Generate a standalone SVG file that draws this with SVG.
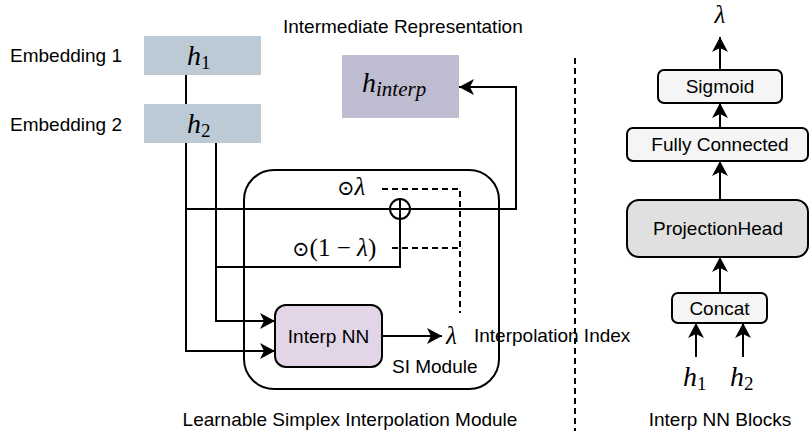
<svg xmlns="http://www.w3.org/2000/svg" width="810" height="431" viewBox="0 0 810 431">
<style>
.lbl{font-family:"Liberation Sans",Arial,sans-serif;font-size:19px;fill:#000}
.m{font-family:"Liberation Serif","DejaVu Serif",serif;font-style:italic;fill:#000}
.sym{font-family:"DejaVu Serif",serif;font-style:normal}
.ln{fill:none;stroke:#000;stroke-width:2}
.dash{fill:none;stroke:#000;stroke-width:2;stroke-dasharray:6 4}
.box{stroke:#000;stroke-width:2}
</style>
<defs>
<marker id="ar" markerUnits="userSpaceOnUse" markerWidth="18" markerHeight="18" refX="15" refY="8" orient="auto">
<path d="M0,0 L15,8 L0,16 L4,8 Z" fill="#000"/>
</marker>
</defs>
<rect width="810" height="431" fill="#fff"/>

<g id="labels">
<text class="lbl" x="10" y="62">Embedding 1</text>
<text class="lbl" x="10" y="131">Embedding 2</text>
<text class="lbl" x="283" y="33">Intermediate Representation</text>
<text class="lbl" x="350" y="426" text-anchor="middle">Learnable Simplex Interpolation Module</text>
<text class="lbl" x="720" y="426" text-anchor="middle">Interp NN Blocks</text>
</g>

<g id="h1">
<rect x="144" y="36" width="117" height="39" fill="#bccad6"/>
<text class="m" x="187" y="65" font-size="28">h<tspan font-style="normal" font-size="19" dy="4">1</tspan></text>
</g>
<g id="h2">
<rect x="144" y="104" width="117" height="39" fill="#bccad6"/>
<text class="m" x="187" y="133" font-size="28">h<tspan font-style="normal" font-size="19" dy="4">2</tspan></text>
</g>
<g id="hinterp">
<rect x="342" y="55" width="117" height="63" fill="#bdbcd0"/>
<text class="m" x="362" y="92" font-size="28">h<tspan font-size="21" dy="4">interp</tspan></text>
</g>

<g id="si-module">
<rect x="244" y="170" width="255" height="219" rx="30" fill="none" class="box"/>
<text class="lbl" x="392" y="373">SI Module</text>
</g>

<g id="interp-nn">
<rect x="275" y="305" width="107" height="62" rx="11" fill="#e1d5e7" class="box"/>
<text class="lbl" x="328.5" y="343" text-anchor="middle">Interp NN</text>
</g>

<g id="connectors">
<path class="ln" d="M186,75 V104"/>
<path class="ln" d="M186,143 V351 H275" marker-end="url(#ar)"/>
<path class="ln" d="M216,143 V321 H275" marker-end="url(#ar)"/>
<path class="ln" d="M186,209 H516 V87 H459" marker-end="url(#ar)"/>
<path class="ln" d="M216,267 H400 V209"/>
<circle cx="400" cy="209" r="10" class="ln"/>
<path class="ln" d="M400,199 V219"/>
<path class="ln" d="M382,336 H442" marker-end="url(#ar)"/>
<path class="dash" d="M382,189 H460 V313"/>
<path class="dash" d="M392,248 H460"/>
<path class="dash" d="M575,58 V431"/>
<path class="ln" d="M720,70 V37" marker-end="url(#ar)"/>
<path class="ln" d="M720,128 V103" marker-end="url(#ar)"/>
<path class="ln" d="M720,200 V161" marker-end="url(#ar)"/>
<path class="ln" d="M720,293 V257" marker-end="url(#ar)"/>
<path class="ln" d="M696,357 V323" marker-end="url(#ar)"/>
<path class="ln" d="M743,357 V323" marker-end="url(#ar)"/>
</g>

<g id="math-labels">
<text class="m" x="337" y="195" font-size="25"><tspan class="sym" font-size="21">⊙</tspan>λ</text>
<text class="m" x="292" y="256" font-size="25"><tspan class="sym" font-size="21">⊙</tspan><tspan font-style="normal">(1 − </tspan>λ<tspan font-style="normal">)</tspan></text>
<text class="m" x="446" y="344" font-size="25">λ</text>
<text class="lbl" x="474" y="342">Interpolation Index</text>
</g>

<g id="sigmoid">
<rect x="658" y="70" width="124" height="33" rx="6" fill="#f5f5f5" class="box"/>
<text class="lbl" x="720" y="93" text-anchor="middle">Sigmoid</text>
</g>
<g id="fully-connected">
<rect x="627" y="128" width="181" height="33" rx="6" fill="#f5f5f5" class="box"/>
<text class="lbl" x="720" y="151" text-anchor="middle">Fully Connected</text>
</g>
<g id="projection-head">
<rect x="627" y="200" width="181" height="57" rx="12" fill="#e0e0e0" class="box"/>
<text class="lbl" x="718" y="235" text-anchor="middle">ProjectionHead</text>
</g>
<g id="concat">
<rect x="672" y="293" width="95" height="30" rx="6" fill="#f5f5f5" class="box"/>
<text class="lbl" x="719.5" y="315" text-anchor="middle">Concat</text>
</g>
<g id="rhs-math">
<text class="m" x="720" y="23" font-size="25" text-anchor="middle">λ</text>
<text class="m" x="683" y="386" font-size="28">h<tspan font-style="normal" font-size="19" dy="4">1</tspan></text>
<text class="m" x="730" y="386" font-size="28">h<tspan font-style="normal" font-size="19" dy="4">2</tspan></text>
</g>
</svg>
